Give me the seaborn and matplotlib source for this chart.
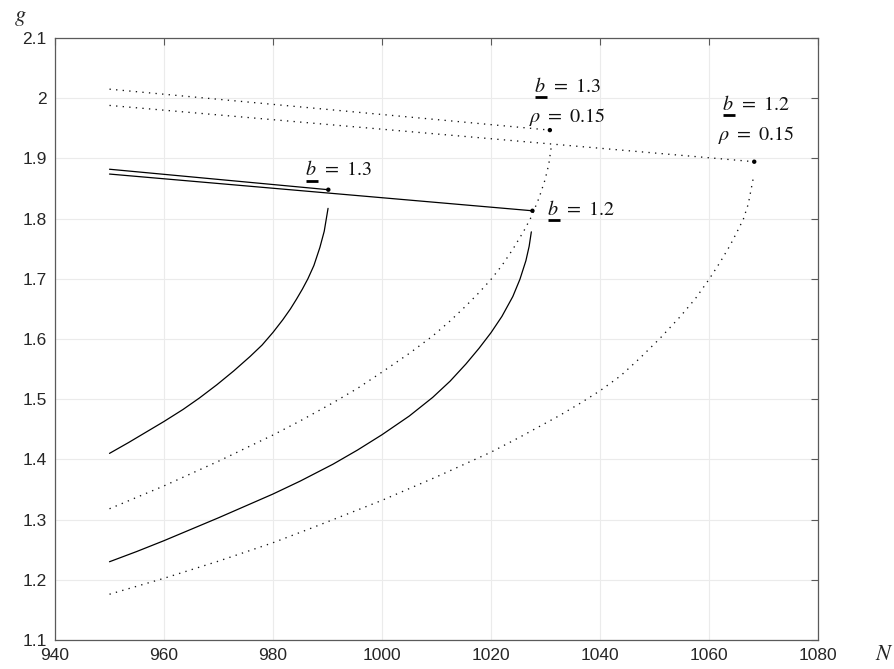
import matplotlib
matplotlib.use("Agg")
import matplotlib.pyplot as plt
import matplotlib.transforms as mtransforms
from matplotlib.lines import Line2D
import seaborn as sns
import pandas as pd

# ---- data ----
# solid, b = 1.3 : lower branch
b13_lower_N = [950, 953.5, 957.4, 960, 963.5, 966.5, 969.7, 972.8, 975.8, 978, 980, 981.8,
               983.2, 984.3, 985.4, 986.4, 987.5, 988.6, 989.4, 990.1]
b13_lower_g = [1.410, 1.428, 1.449, 1.463, 1.483, 1.502, 1.524, 1.547, 1.571, 1.590, 1.611, 1.632,
               1.650, 1.666, 1.683, 1.700, 1.722, 1.752, 1.779, 1.817]
# solid, b = 1.2 : lower branch
b12_lower_N = [950, 955, 960, 970, 980, 985, 991, 995.5, 1000, 1005, 1009.3, 1012.5, 1015.4,
               1017.8, 1020, 1022, 1024, 1025.3, 1026.4, 1027.0, 1027.4]
b12_lower_g = [1.230, 1.247, 1.265, 1.303, 1.3425, 1.364, 1.392, 1.4155, 1.441, 1.472, 1.503, 1.530, 1.5585,
               1.5845, 1.6105, 1.6375, 1.6705, 1.699, 1.730, 1.754, 1.778]
# dotted, b = 1.3, rho = 0.15 : lower branch
r13_lower_N = [950, 955, 960, 970, 980, 985, 991, 995.5, 1000, 1005, 1009.3, 1012.5, 1015.4,
               1017.8, 1020, 1022, 1024, 1026, 1027.4, 1028.8, 1029.9, 1030.6, 1031.1]
r13_lower_g = [1.318, 1.337, 1.356, 1.397, 1.4405, 1.464, 1.494, 1.518, 1.545, 1.576, 1.605, 1.630, 1.655,
               1.677, 1.699, 1.722, 1.749, 1.779, 1.803, 1.834, 1.864, 1.890, 1.922]
# dotted, b = 1.2, rho = 0.15 : lower branch
r12_lower_N = [950, 960, 970, 980, 986.8, 993, 1000, 1010, 1020, 1025.3, 1032.6, 1036.5, 1040, 1043.8,
               1047.3, 1051, 1054.7, 1057.5, 1060, 1062, 1063.9, 1065.2, 1066.3, 1067.2, 1067.8, 1068.1]
r12_lower_g = [1.176, 1.2025, 1.231, 1.2616, 1.285, 1.307, 1.332, 1.371, 1.412, 1.437, 1.473, 1.494, 1.514, 1.539,
               1.568, 1.601, 1.637, 1.667, 1.699, 1.727, 1.756, 1.779, 1.799, 1.824, 1.852, 1.866]
# upper branches (start, end point marked with a dot)
b13_upper_N = [950, 990.15]
b13_upper_g = [1.882, 1.848]
b12_upper_N = [950, 1027.6]
b12_upper_g = [1.874, 1.813]
r13_upper_N = [950, 1030.8]
r13_upper_g = [2.015, 1.947]
r12_upper_N = [950, 1068.3]
r12_upper_g = [1.988, 1.8945]

x_ticks = [940, 960, 980, 1000, 1020, 1040, 1060, 1080]
y_ticks = [1.1, 1.2, 1.3, 1.4, 1.5, 1.6, 1.7, 1.8, 1.9, 2.0, 2.1]
y_tick_labels = ["1.1", "1.2", "1.3", "1.4", "1.5", "1.6", "1.7", "1.8", "1.9", "2", "2.1"]

# label text: b value, optional rho value, anchor position, alignment
label_b = ["1.3", "1.2", "1.3", "1.2"]
label_rho = [None, None, "0.15", "0.15"]
label_N = [992.0, 1030.3, 1034.0, 1068.6]
label_g = [1.872, 1.806, 2.011, 1.981]
label_align = ["center", "left", "center", "center"]

# ---- style ----
sns.set_style("white")
plt.rcParams["font.family"] = ["Liberation Sans", "DejaVu Sans"]
plt.rcParams["mathtext.fontset"] = "stix"

fig = plt.figure(figsize=(8.94, 6.69), dpi=100)
ax = fig.add_axes([55 / 894, 29 / 669, 763 / 894, 602 / 669])

solid_segs = [(b13_lower_N, b13_lower_g), (b12_lower_N, b12_lower_g),
              (b13_upper_N, b13_upper_g), (b12_upper_N, b12_upper_g)]
dotted_segs = [(r13_lower_N, r13_lower_g), (r12_lower_N, r12_lower_g),
               (r13_upper_N, r13_upper_g), (r12_upper_N, r12_upper_g)]

for xs, ys in solid_segs:
    df = pd.DataFrame({"N": xs, "g": ys})
    sns.lineplot(data=df, x="N", y="g", ax=ax, color="black", linewidth=0.9,
                 sort=False, estimator=None)
for xs, ys in dotted_segs:
    df = pd.DataFrame({"N": xs, "g": ys})
    sns.lineplot(data=df, x="N", y="g", ax=ax, color="#111111", linewidth=0.95,
                 linestyle=(0, (1, 4)), sort=False, estimator=None)

ends = pd.DataFrame({"N": [b13_upper_N[-1], b12_upper_N[-1], r13_upper_N[-1], r12_upper_N[-1]],
                     "g": [b13_upper_g[-1], b12_upper_g[-1], r13_upper_g[-1], r12_upper_g[-1]]})
sns.scatterplot(data=ends, x="N", y="g", ax=ax, color="black", s=10, edgecolor="none")

ax.set_xlim(940, 1080)
ax.set_ylim(1.1, 2.1)
ax.set_xticks(x_ticks)
ax.set_yticks(y_ticks)
ax.set_yticklabels(y_tick_labels)
ax.set_xlabel("")
ax.set_ylabel("")
ax.grid(True, color="#ebebeb", linewidth=0.8)
ax.set_axisbelow(True)
for sp in ax.spines.values():
    sp.set_visible(True)
    sp.set_color("#5a5a5a")
    sp.set_linewidth(0.9)
ax.tick_params(direction="in", length=5, width=0.8, color="#5a5a5a",
               top=True, right=True, labelsize=12.5, labelcolor="#262626", pad=6)

fig.text(14 / 894, 1 - 17 / 669, r"$g$", fontsize=16, ha="left", va="center")
fig.text(884 / 894, 1 - 655 / 669, r"$N$", fontsize=16, ha="center", va="center")

# ---- labels with underlined b ----
FS = 14.5
renderer = fig.canvas.get_renderer()
b_texts = []
for bv, rv, xn, yg, al in zip(label_b, label_rho, label_N, label_g, label_align):
    tb = ax.text(xn, yg, r"$b$", fontsize=FS, ha="left", va="baseline", color="#111111")
    tr = ax.text(xn, yg, r"$\ =\ $" + r"$%s$" % bv, fontsize=FS, ha="left",
                 va="baseline", color="#111111")
    wb = tb.get_window_extent(renderer).width
    wr = tr.get_window_extent(renderer).width
    shift = -(wb + wr) / 2 if al == "center" else 0
    tb.set_transform(mtransforms.offset_copy(ax.transData, fig=fig, x=shift, y=0, units="dots"))
    tr.set_transform(mtransforms.offset_copy(ax.transData, fig=fig, x=shift + wb, y=0, units="dots"))
    b_texts.append(tb)
    if rv is not None:
        ax.annotate(r"$\rho\ =\ %s$" % rv, xy=(xn, yg), xytext=(0, -30),
                    textcoords="offset pixels", fontsize=FS, ha="center",
                    va="baseline", color="#111111")

fig.canvas.draw()
for tb in b_texts:
    ext = tb.get_window_extent(renderer)
    yl = ext.y0 - 1.5
    fig.add_artist(Line2D([ext.x0 + 0.5, ext.x1 + 1.5], [yl, yl], transform=mtransforms.IdentityTransform(),
                          color="black", linewidth=2.0, solid_capstyle="butt"))

fig.savefig("out.png", dpi=100)
